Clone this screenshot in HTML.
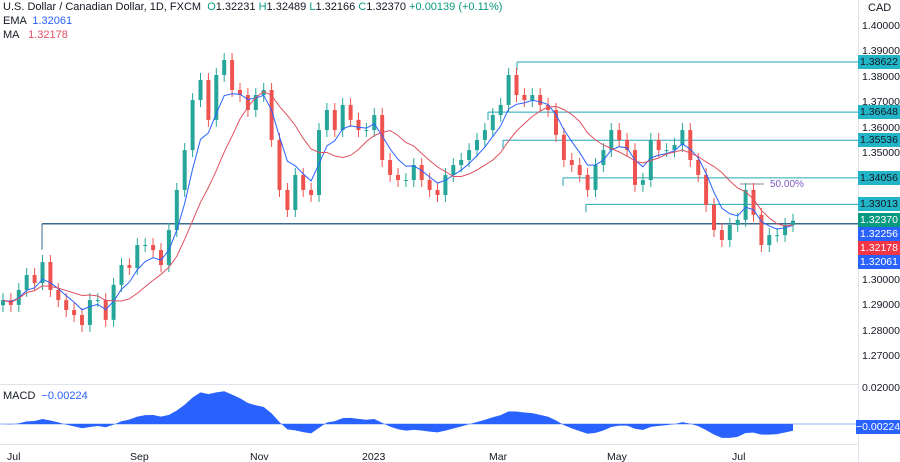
<!DOCTYPE html>
<html><head><meta charset="utf-8"><style>
body{margin:0;background:#fff;font-family:"Liberation Sans",sans-serif;}
#c{position:relative;width:900px;height:462px;overflow:hidden}
.t{position:absolute;font-size:11px;color:#131722;white-space:nowrap}
.ax{position:absolute;left:862px;font-size:10.5px;color:#131722}
.tag{position:absolute;left:858px;width:42px;height:14px;color:#fff;font-size:10.5px;line-height:14px;text-align:center}
</style></head><body>
<div id="c">
<svg id="s" width="900" height="462" style="position:absolute;left:0;top:0"></svg>
<div class="t" style="left:3px;top:1px">U.S. Dollar / Canadian Dollar, 1D, FXCM &nbsp;<span style="color:#089981">O</span>1.32231 <span style="color:#089981">H</span>1.32489 <span style="color:#089981">L</span>1.32166 <span style="color:#089981">C</span>1.32370 <span style="color:#089981">+0.00139 (+0.11%)</span></div>
<div class="t" style="left:3px;top:15px">EMA &nbsp;<span style="color:#2962ff">1.32061</span></div>
<div class="t" style="left:3px;top:29px">MA &nbsp;&nbsp;<span style="color:#e05060">1.32178</span></div>
<div class="t" style="left:3px;top:390px">MACD &nbsp;<span style="color:#2962ff">−0.00224</span></div>
<div class="t" style="left:868px;top:2px">CAD</div>
<div id="axl"></div>
</div>
<script>
const closes=[1.2924,1.2905,1.2964,1.3023,1.2991,1.3074,1.2964,1.2924,1.2885,1.2865,1.2826,1.2924,1.2924,1.2846,1.2984,1.3062,1.3051,1.3141,1.3141,1.3121,1.3062,1.3200,1.3358,1.3515,1.3712,1.3791,1.3634,1.3811,1.3870,1.3752,1.3732,1.3673,1.3732,1.3752,1.3555,1.3358,1.3279,1.3417,1.3358,1.3338,1.3594,1.3673,1.3594,1.3693,1.3634,1.3594,1.3594,1.3653,1.3476,1.3417,1.3397,1.3397,1.3456,1.3397,1.3358,1.3338,1.3417,1.3456,1.3476,1.3515,1.3555,1.3594,1.3653,1.3693,1.3811,1.3732,1.3712,1.3732,1.3693,1.3673,1.3575,1.3476,1.3456,1.3417,1.3358,1.3456,1.3515,1.3594,1.3555,1.3515,1.3378,1.3397,1.3555,1.3515,1.3515,1.3535,1.3594,1.3476,1.3417,1.3299,1.3200,1.3161,1.3220,1.3240,1.3358,1.3260,1.3141,1.3180,1.3180,1.3220,1.3237];
const priceTicks=[1.40,1.39,1.38,1.37,1.36,1.35,1.30,1.29,1.28,1.27];
const levels=[1.38622,1.36648,1.35536,1.34056,1.33013];
const levelStartX=[517,488,503,563,586];
const monthLabels=["Jul","Sep","Nov","2023","Mar","May","Jul"];
const monthX=[15,138,258,370,497,615,740];
const tagText=["1.32370","1.32256","1.32178","1.32061"];
const tagColor=["#089981","#2962ff","#f23645","#2962ff"];
const NS="http://www.w3.org/2000/svg",svg=document.getElementById('s'),axl=document.getElementById('axl');
const y=p=>27+(1.4-p)*2538;
const x=i=>3+i*(790/(closes.length-1));
function el(t,a,n){const e=document.createElementNS(NS,t);for(const k in a)e.setAttribute(k,a[k]);svg.appendChild(e);return e;}
el('line',{x1:0,y1:384.5,x2:858,y2:384.5,stroke:'#e0e3eb'},'pane-separator');
el('line',{x1:858.5,y1:0,x2:858.5,y2:462,stroke:'#e0e3eb'},'price-axis-border');
el('line',{x1:0,y1:444.5,x2:858,y2:444.5,stroke:'#e0e3eb'},'time-axis-border');
levels.forEach((L,i)=>{el('line',{x1:levelStartX[i],y1:y(L),x2:858,y2:y(L),stroke:'#22a6b8','stroke-width':1},'level-line');
 el('line',{x1:levelStartX[i],y1:y(L),x2:levelStartX[i],y2:y(L)+8,stroke:'#22a6b8'},'level-tick');});
el('line',{x1:42,y1:y(1.3225),x2:858,y2:y(1.3225),stroke:'#3d6b8f','stroke-width':1.5},'support-line');
el('line',{x1:42,y1:y(1.3225),x2:42,y2:y(1.3225)+26,stroke:'#3d6b8f'},'support-tick');
el('line',{x1:740,y1:184,x2:764,y2:184,stroke:'#888'},'fib-50-line');
const ft=el('text',{x:770,y:187,'font-size':10,fill:'#7e57c2','font-family':'Liberation Sans'},'fib-50-label');ft.textContent='50.00%';
function ema(a,n){const k=2/(n+1);let r=[],v=a[0];a.forEach(c=>{v=c*k+v*(1-k);r.push(v)});return r;}
function sma(a,n){return a.map((c,i)=>{const s=a.slice(Math.max(0,i-n+1),i+1);return s.reduce((p,q)=>p+q,0)/s.length;});}
const e=ema(closes,5),m=sma(closes,10);
closes.forEach((c,i)=>{const o=i?closes[i-1]:c-0.002;const up=c>=o;const col=up?'#26a69a':'#ef5350';const X=x(i);
 el('line',{x1:X,y1:y(Math.max(o,c))-7,x2:X,y2:y(Math.min(o,c))+7,stroke:col,'stroke-width':1},'candle-wick');
 el('rect',{x:X-2,y:Math.min(y(o),y(c)),width:4,height:Math.max(1,Math.abs(y(o)-y(c))),fill:col},'candle-body');});
el('polyline',{points:e.map((v,i)=>x(i)+','+y(v)).join(' '),fill:'none',stroke:'#2962ff','stroke-width':1},'ema-line');
el('polyline',{points:m.map((v,i)=>x(i)+','+y(v)).join(' '),fill:'none',stroke:'#e05060','stroke-width':1},'ma-line');
const f=ema(closes,6),s=ema(closes,13),macd=f.map((v,i)=>v-s[i]);
const my=v=>424-v*1600;
let pts='3,424 '+macd.map((v,i)=>x(i)+','+my(v)).join(' ')+' 793,424';
el('polygon',{points:pts,fill:'#2962ff'},'macd-area');
el('line',{x1:0,y1:424,x2:858,y2:424,stroke:'#2962ff','stroke-width':0.5},'macd-zero');
function div(html,cls,st,n){const d=document.createElement('div');d.className=cls;d.style.cssText=st;d.innerHTML=html;axl.appendChild(d);}
priceTicks.forEach(p=>div(p.toFixed(5),'ax','top:'+(y(p)-7)+'px','price-tick'));
levels.forEach(L=>div(L.toFixed(5),'tag','background:#22b5c8;color:#131722;top:'+(y(L)-7)+'px','level-tag'));
tagText.forEach((t,i)=>div(t,'tag','background:'+tagColor[i]+';top:'+(213+i*14)+'px','price-tag'));
div('0.02000','ax','top:382px','macd-tick');
div('−0.00224','tag','background:#2962ff;top:420px;width:44px;left:856px','macd-tag');
monthLabels.forEach((l,i)=>div(l,'t','top:451px;font-size:10.5px;left:'+(monthX[i]-8)+'px','month-label'));
</script>
</body></html>
